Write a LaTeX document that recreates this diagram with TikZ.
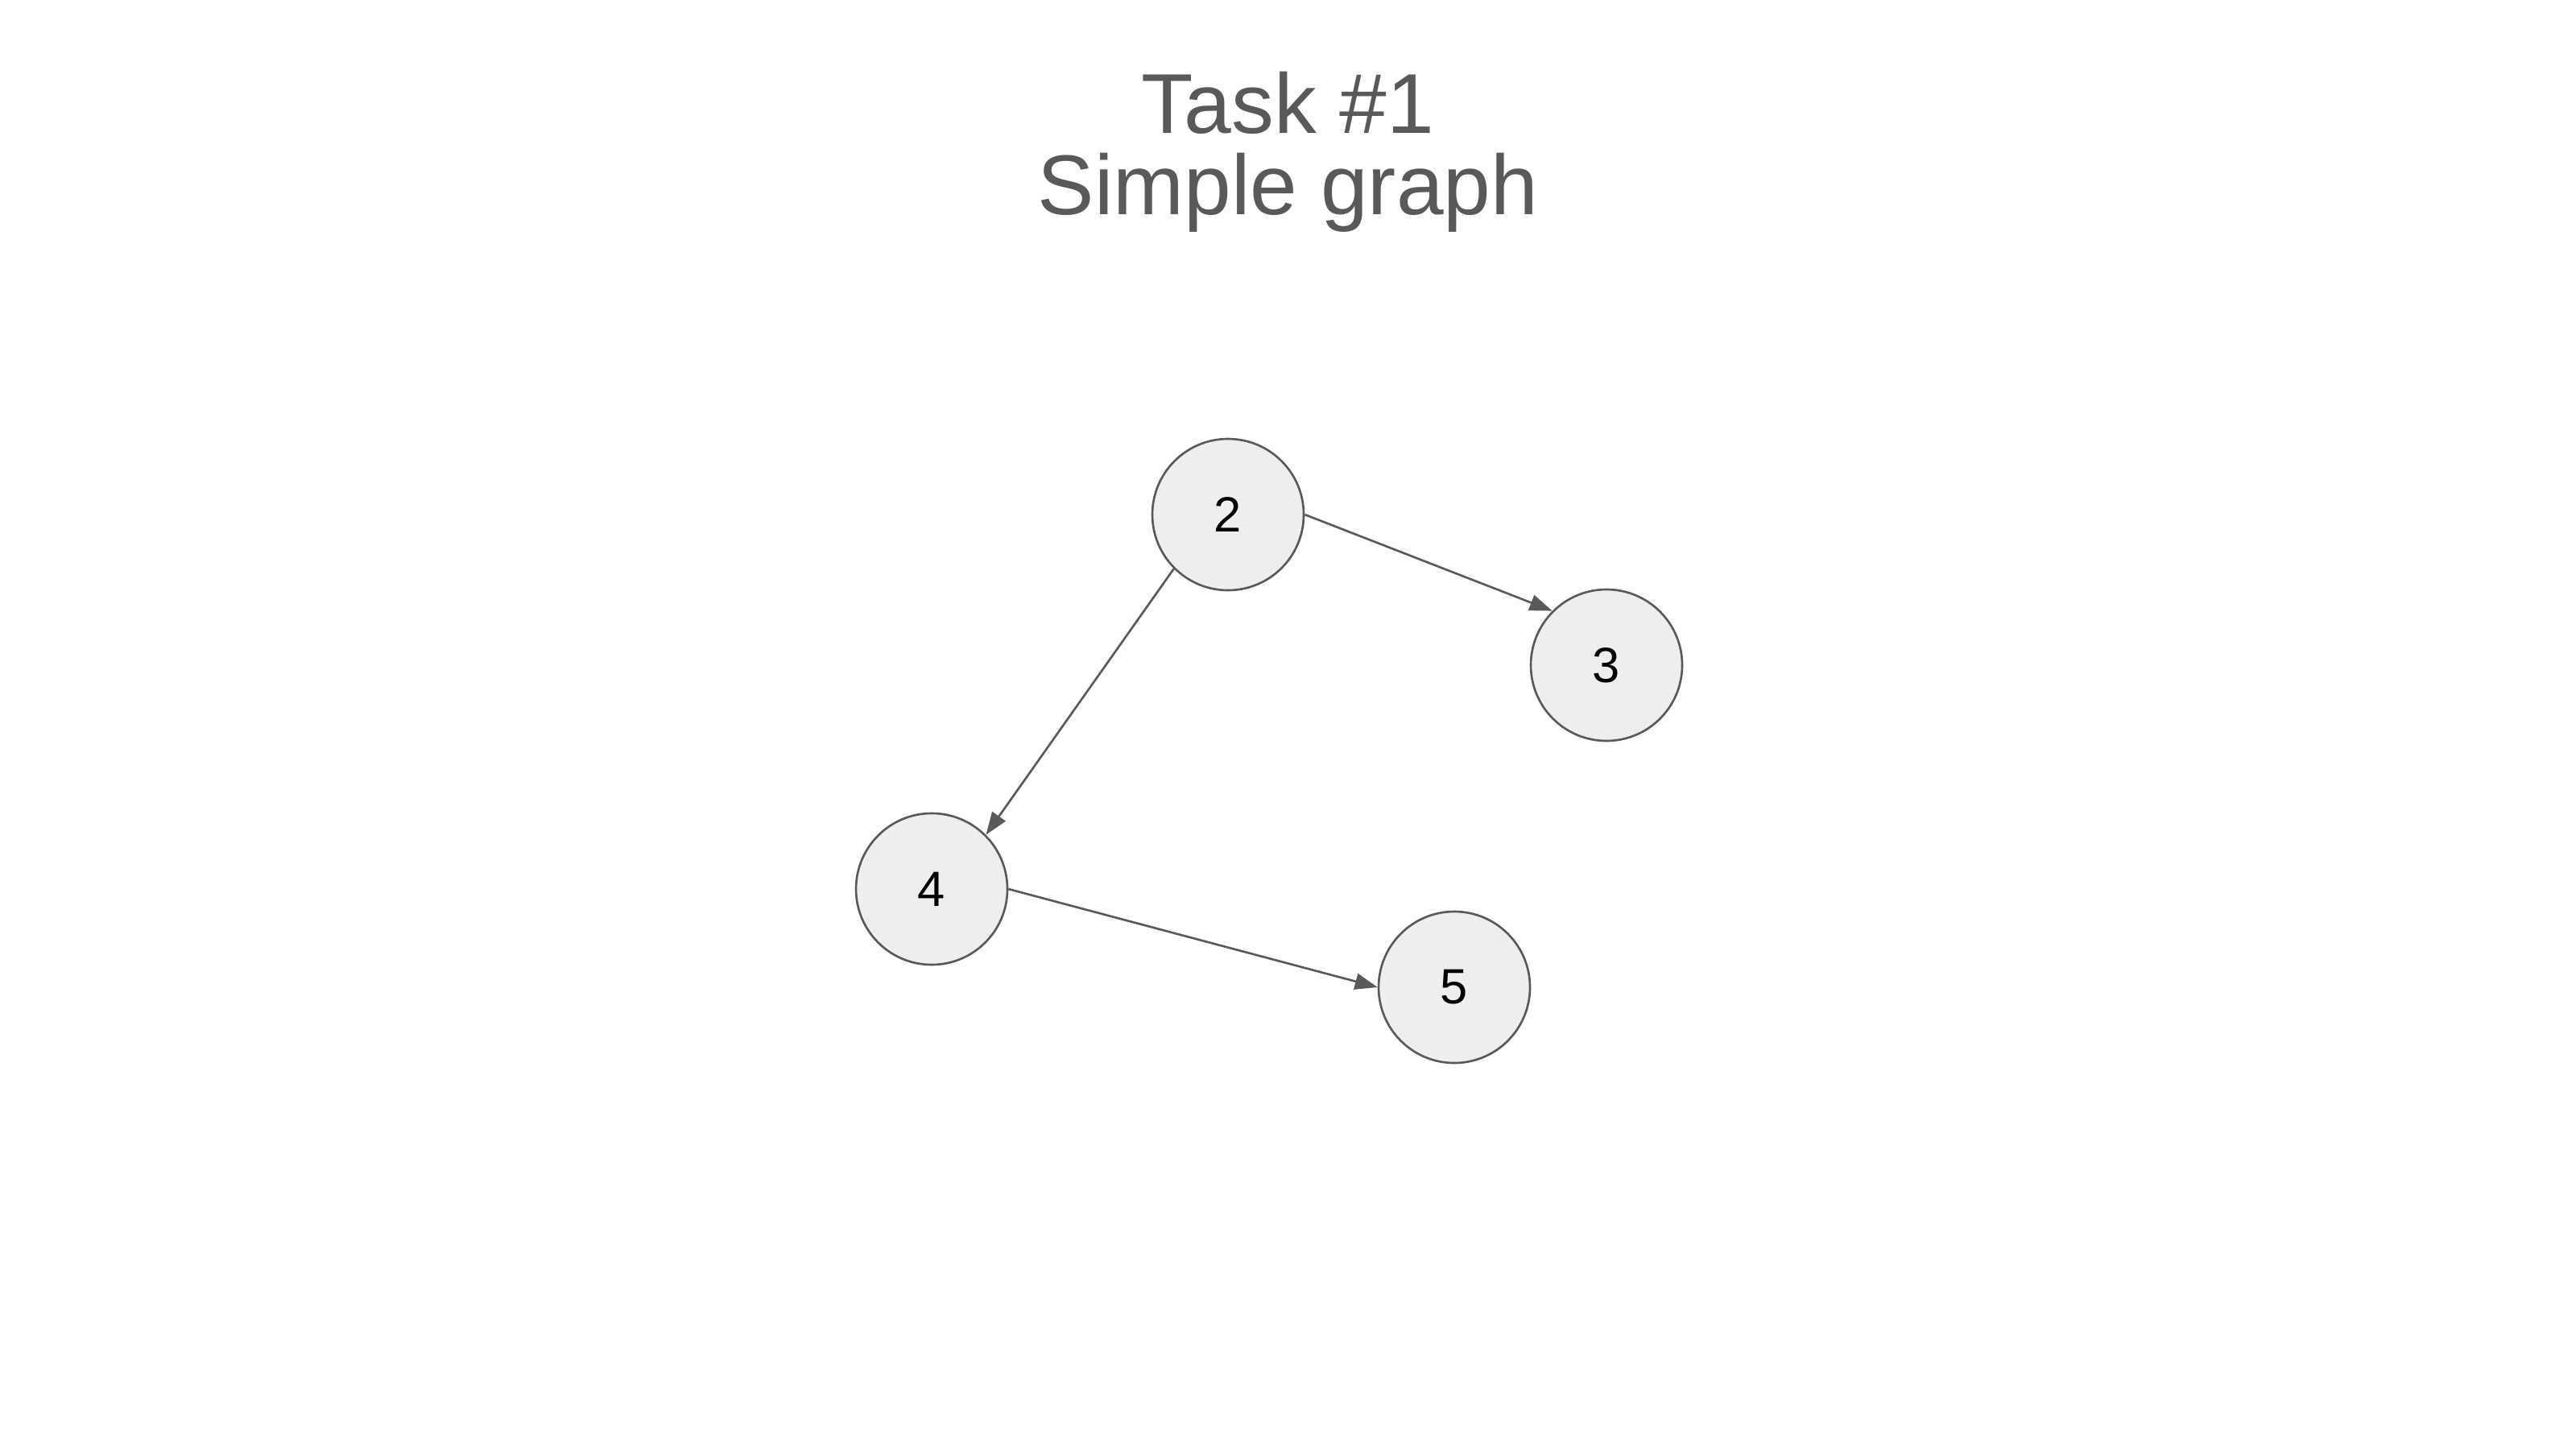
\documentclass[tikz,border=0pt]{standalone}
\usepackage{fontspec}
\setmainfont{Liberation Sans}
\usetikzlibrary{arrows.meta}
\definecolor{edgegray}{HTML}{595959}
\definecolor{nodefill}{HTML}{EEEEEE}
\tikzset{
  vertex/.style={circle, draw=edgegray, fill=nodefill, line width=0.75pt,
    minimum size=1.88cm, inner sep=0pt, font=\fontsize{17.5}{20}\selectfont, text=black},
  titletext/.style={anchor=base, text=edgegray, font=\fontsize{30}{30}\selectfont, inner sep=0pt},
  edge/.style={draw=edgegray, line width=0.75pt, -{Triangle[length=0.28cm, width=0.2cm]}}
}
\begin{document}
\begin{tikzpicture}
\useasboundingbox (0,0) rectangle (31.99,-17.86);
\node[titletext] (title1) at (15.995,-1.65) {Task \#1};
\node[titletext] (title2) at (15.995,-2.66) {Simple graph};
\node[vertex] (n2) at (15.25,-6.39) {2};
\node[vertex] (n3) at (19.95,-8.26) {3};
\node[vertex] (n4) at (11.57,-11.04) {4};
\node[vertex] (n5) at (18.06,-12.26) {5};
\draw[edge] (n2.east) -- (n3.north west);
\draw[edge] (n2.south west) -- (n4.north east);
\draw[edge] (n4.east) -- (n5.west);
\end{tikzpicture}
\end{document}
